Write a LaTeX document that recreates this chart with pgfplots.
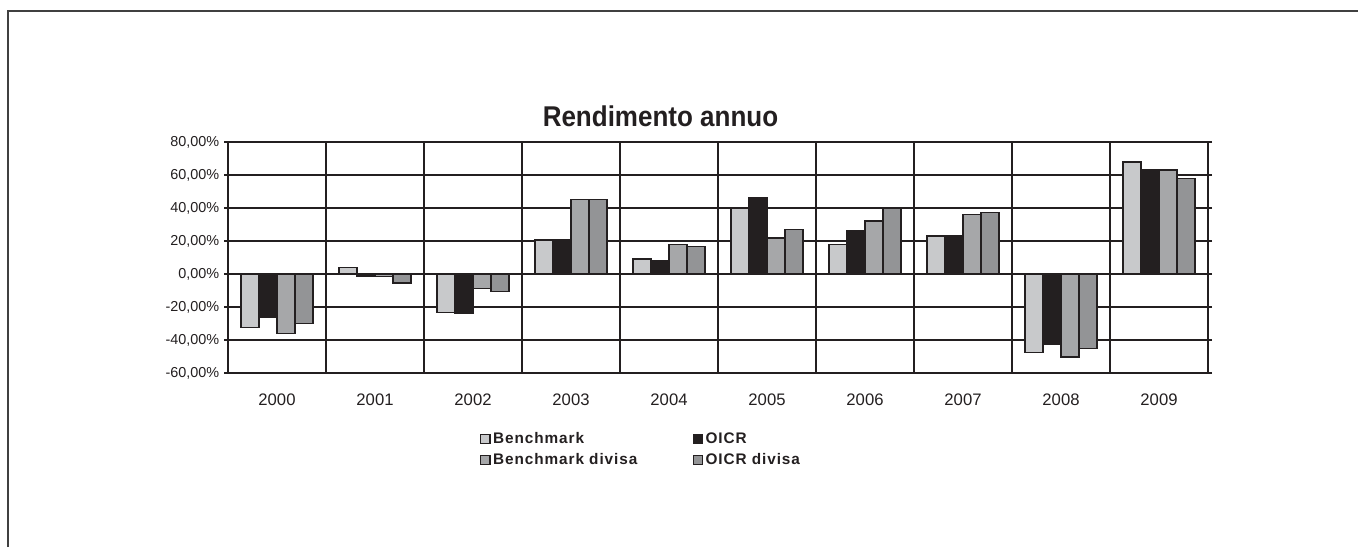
\documentclass[border=0pt]{standalone}
\usepackage{fontspec}
\setmainfont{Liberation Sans}
\newfontfamily\legfont[LetterSpace=6]{Liberation Sans}
\usepackage{pgfplots}
\pgfplotsset{compat=1.18}
\definecolor{ink}{RGB}{35,31,32}
\definecolor{bm}{RGB}{200,201,203}
\definecolor{oi}{RGB}{35,31,32}
\definecolor{bmd}{RGB}{166,167,169}
\definecolor{oid}{RGB}{147,148,150}

\pgfplotstableread{
x bm oi bmd oid
0 -32.3 -26.1 -36.0 -29.9
1 3.8 -1.5 -1.6 -5.5
2 -23.4 -23.5 -8.9 -10.7
3 20.6 20.5 45.0 45.0
4 9.1 8.1 18.0 16.8
5 39.8 46.5 21.8 26.9
6 18.0 26.0 32.1 39.8
7 23.0 23.4 36.2 37.4
8 -47.7 -42.6 -50.3 -45.3
9 68.0 63.0 63.0 57.8
}\rendimento

\begin{document}
\begin{tikzpicture}
\path[use as bounding box] (0pt,0pt) rectangle (1018.5pt,-410.25pt);
\draw[line width=1.2pt, black!75] (6pt,-410.25pt) -- (6pt,-8.25pt) -- (1018.5pt,-8.25pt);
\begin{axis}[
  at={(171pt,-279.75pt)}, anchor=south west,
  scale only axis, width=735pt, height=173.25pt,
  ybar=0pt, bar width=13.5pt,
  xmin=-0.5, xmax=9.5, ymin=-60, ymax=80,
  xtick={0,...,9},
  xticklabels={2000,2001,2002,2003,2004,2005,2006,2007,2008,2009},
  minor xtick={0.5,1.5,...,8.5}, xminorgrids,
  x tick style={draw=none},
  ytick={-60,-40,...,80},
  yticklabels={-60{,}00\%,-40{,}00\%,-20{,}00\%,0{,}00\%,20{,}00\%,40{,}00\%,60{,}00\%,80{,}00\%},
  ymajorgrids,
  tick align=outside, major tick length=3pt,
  y tick style={ink, line width=0.9pt},
  axis line style={ink, line width=1.2pt},
  grid style={ink, line width=0.9pt},
  minor grid style={ink, line width=1.1pt},
  xticklabel style={font=\fontsize{12.5}{14}\selectfont, text=ink, anchor=base, yshift=-21pt},
  yticklabel style={font=\fontsize{10.8}{12}\selectfont, text=ink},
  title={\scalebox{1}[1.1]{Rendimento annuo}},
  title style={font=\fontsize{19.5}{22}\selectfont\bfseries, text=ink, at={(0.4413,1)}, anchor=base, yshift=6pt},
  every axis plot/.append style={draw=ink, line width=1.1pt},
  legend columns=2,
  legend style={draw=none, fill=none, inner sep=0pt, at={(0.257,-0.245)}, anchor=north west,
    font=\legfont\fontsize{11.5}{13}\selectfont\bfseries, text=ink,
    /tikz/every even column/.append style={column sep=35.5pt},
    /tikz/row sep=2pt},
  legend cell align=left,
  legend image code/.code={\draw[#1, line width=0.8pt] (0pt,-3.5pt) rectangle (7pt,3.5pt);},
]
\addplot[fill=bm] table[x=x, y=bm] {\rendimento};
\addplot[fill=oi] table[x=x, y=oi] {\rendimento};
\addplot[fill=bmd] table[x=x, y=bmd] {\rendimento};
\addplot[fill=oid] table[x=x, y=oid] {\rendimento};
\addlegendentry{\makebox[112pt][l]{Benchmark}}
\addlegendentry{OICR}
\addlegendentry{\makebox[112pt][l]{Benchmark divisa}}
\addlegendentry{OICR divisa}
\end{axis}
\end{tikzpicture}
\end{document}
